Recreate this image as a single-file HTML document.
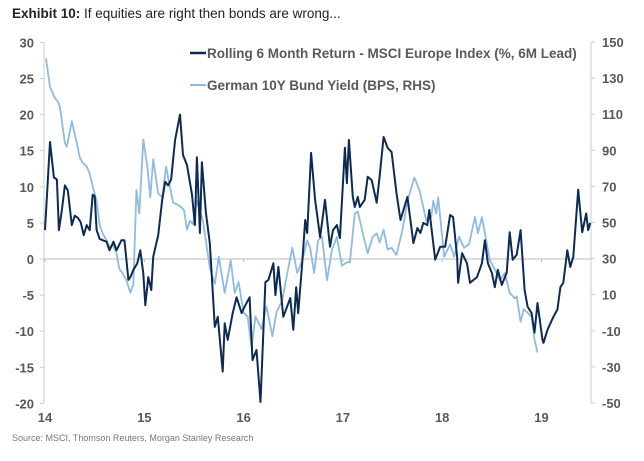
<!DOCTYPE html>
<html><head><meta charset="utf-8"><style>
body{margin:0;background:#fff;width:644px;height:456px;overflow:hidden;font-family:"Liberation Sans",sans-serif}
svg text{font-family:"Liberation Sans",sans-serif}
</style></head><body>
<svg id="chart" width="644" height="456" xmlns="http://www.w3.org/2000/svg">
<text x="12" y="18" font-size="13.5" fill="#222"><tspan font-weight="bold">Exhibit 10:</tspan>  If equities are right then bonds are wrong...</text>
<g id="axes"></g>
<g id="series"></g>
<g>
<line x1="190" y1="53" x2="206" y2="53" stroke="#0d2b52" stroke-width="2.5"/>
<text x="207" y="58" font-size="13.5" font-weight="bold" fill="#595959">Rolling 6 Month Return - MSCI Europe Index (%, 6M Lead)</text>
<line x1="190" y1="85" x2="206" y2="85" stroke="#8fbbe0" stroke-width="2"/>
<text x="207" y="90" font-size="13.5" font-weight="bold" fill="#595959">German 10Y Bund Yield (BPS, RHS)</text>
</g>
<text x="12" y="441" font-size="9" fill="#777">Source: MSCI, Thomson Reuters, Morgan Stanley Research</text>
</svg>
<script>
const leftTicks=[30,25,20,15,10,5,0,-5,-10,-15,-20];
const rightTicks=[150,130,110,90,70,50,30,10,-10,-30,-50];
const yearLabels=["14","15","16","17","18","19"];
const eqT=[0,.05,.09,.12,.14,.17,.20,.23,.27,.30,.33,.36,.39,.42,.45,.48,.50,.52,.55,.58,.62,.65,.69,.72,.77,.80,.82,.84,.86,.89,.93,.96,.99,1.01,1.04,1.07,1.09,1.14,1.18,1.21,1.24,1.27,1.31,1.36,1.39,1.43,1.48,1.51,1.53,1.56,1.58,1.62,1.66,1.69,1.71,1.74,1.79,1.81,1.84,1.89,1.93,1.98,2.01,2.06,2.09,2.13,2.17,2.22,2.25,2.30,2.32,2.35,2.40,2.47,2.50,2.53,2.55,2.59,2.62,2.64,2.68,2.72,2.77,2.82,2.87,2.90,2.94,2.97,3.02,3.04,3.06,3.10,3.12,3.15,3.17,3.22,3.25,3.29,3.34,3.37,3.41,3.45,3.49,3.54,3.58,3.65,3.71,3.75,3.78,3.81,3.85,3.87,3.93,3.98,4.03,4.08,4.11,4.15,4.16,4.20,4.25,4.28,4.35,4.40,4.43,4.46,4.50,4.53,4.56,4.60,4.65,4.68,4.71,4.75,4.79,4.83,4.86,4.90,4.93,4.96,5.01,5.02,5.06,5.09,5.12,5.16,5.19,5.22,5.26,5.29,5.32,5.37,5.41,5.45,5.47,5.49];
const eqV=[4,16.2,11.3,11,4,6.8,10.2,9.5,4.7,6,5.7,5.1,3.3,4.7,4,8.9,8.7,4,2.8,2.6,2.4,1.2,2.4,1.2,2.6,2.6,-0.1,-2.9,-2.5,-1.5,-0.6,1.2,-2,-6.4,-2.5,-4.3,0.3,3.3,8.2,10.7,10.2,11,16.5,20,14.4,13,8.9,4.7,14.1,3.6,13.4,6.4,2.2,-4.7,-9.4,-8,-15.6,-8.9,-11.2,-7.5,-5.3,-7.5,-6.6,-5.3,-14,-12.6,-19.8,-3.2,-2.9,-0.6,-5,-1.1,-8,-5.4,-9.8,-3.9,-7.5,-0.6,5.4,3.6,14.7,8.2,3,8.2,1.7,4,4.7,2.9,15.4,10.5,16.5,8.6,7.2,8.6,7.2,8.2,11.4,10.9,7.8,11.4,16.9,15.4,14.8,9.1,5.4,8.6,2.2,4.3,3.6,5,4.7,6.8,-0.1,1.7,1.7,6.1,5.8,0.3,-3.3,0.8,-0.6,-3.3,-2.5,-0.6,2.6,-0.6,-1.9,-3.9,-1.5,-3.6,-1.9,3.7,-0.1,0.6,4,-4.3,-6.6,-7.5,-10.2,-6.1,-11.2,-11.6,-9.8,-8.9,-8,-7,-3.9,-3.3,1.2,-1.1,0.3,9.6,3.7,6.3,4,5];
const bdT=[.01,.05,.10,.13,.15,.20,.22,.27,.32,.35,.38,.42,.45,.48,.52,.55,.58,.62,.65,.68,.72,.75,.78,.82,.86,.89,.92,.95,.99,1.03,1.06,1.09,1.14,1.18,1.22,1.25,1.29,1.33,1.36,1.40,1.43,1.46,1.49,1.53,1.59,1.66,1.71,1.75,1.81,1.87,1.91,1.95,2.00,2.04,2.08,2.12,2.18,2.23,2.29,2.33,2.39,2.44,2.49,2.54,2.59,2.64,2.67,2.71,2.75,2.79,2.84,2.89,2.94,2.99,3.04,3.07,3.12,3.15,3.20,3.25,3.30,3.34,3.37,3.41,3.45,3.49,3.54,3.60,3.65,3.72,3.77,3.84,3.89,3.91,3.94,3.96,4.02,4.08,4.12,4.17,4.22,4.27,4.33,4.36,4.40,4.45,4.48,4.53,4.58,4.63,4.68,4.73,4.75,4.79,4.82,4.86,4.90,4.93,4.96];
const bdV=[141,125,119,117,114,94,92,106,94,86,83,81,77,70,62,49,44,40,36,38,33,24,22,18,11,16,68,55,96,81,64,85,66,64,81,72,61,60,59,57,46,51,49,62,51,25,16,31,11,29,11,17,0,-2,-19,-2,-9,3.5,-13,0,7,22,36,22,29,40,36,22,40,42,18,35,42,26,28,28,55,56,44,33,42,44,39,46,35,36,32,46,62,75,68,51,53,62,55,64,31,38,31,42,36,38,53,44,53,38,29,24,18,22,11,8,9,-5,2,0,-2,-15,-22];

const NS="http://www.w3.org/2000/svg";
const X0=44,X1=591,YT=42,YB=403;
function xS(t){return 45+t*99.3;}
function yL(v){return 259-v*7.22;}
function yR(b){return YT+(150-b)*1.805;}
function mk(tag,attrs,parent){const e=document.createElementNS(NS,tag);for(const k in attrs)e.setAttribute(k,attrs[k]);parent.appendChild(e);return e;}
const ax=document.getElementById('axes'),sr=document.getElementById('series');
let e;
e=mk('line',{x1:X0,y1:yL(0),x2:X1,y2:yL(0),stroke:'#bbb','stroke-width':1},ax);


e=mk('line',{x1:X0,y1:YT,x2:X0,y2:YB,stroke:'#ccc','stroke-width':1},ax);


e=mk('line',{x1:X1,y1:YT,x2:X1,y2:YB,stroke:'#ccc','stroke-width':1},ax);


leftTicks.forEach(v=>{
  mk('line',{x1:X0-4,y1:yL(v),x2:X0,y2:yL(v),stroke:'#ccc'},ax);
  const t=mk('text',{x:34,y:yL(v)+5,'text-anchor':'end','font-size':13,'font-weight':'bold',fill:'#595959'},ax);
  t.textContent=v;
  
  
});
rightTicks.forEach(v=>{
  mk('line',{x1:X1,y1:yR(v),x2:X1+4,y2:yR(v),stroke:'#ccc'},ax);
  const t=mk('text',{x:602,y:yR(v)+5,'font-size':13,'font-weight':'bold',fill:'#595959'},ax);
  t.textContent=v;
  
  
});
yearLabels.forEach((l,i)=>{
  mk('line',{x1:xS(i),y1:yL(0),x2:xS(i),y2:yL(0)+3,stroke:'#bbb'},ax);
  const t=mk('text',{x:xS(i),y:422,'text-anchor':'middle','font-size':13,'font-weight':'bold',fill:'#595959'},ax);
  t.textContent=l;
  
  
});
const bp=mk('polyline',{points:bdT.map((t,i)=>xS(t).toFixed(1)+','+yR(bdV[i]).toFixed(1)).join(' '),fill:'none',stroke:'#8fbbe0','stroke-width':1.8,'stroke-linejoin':'round'},sr);


const ep=mk('polyline',{points:eqT.map((t,i)=>xS(t).toFixed(1)+','+yL(eqV[i]).toFixed(1)).join(' '),fill:'none',stroke:'#0d2b52','stroke-width':2,'stroke-linejoin':'round'},sr);


</script>
</body></html>
